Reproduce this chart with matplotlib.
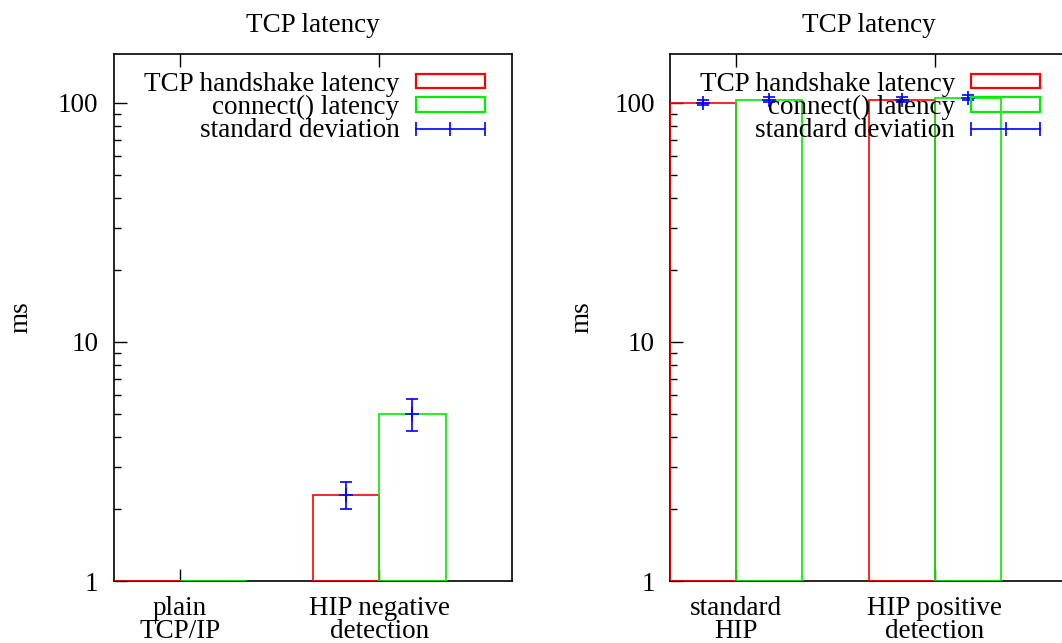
import numpy as np
import matplotlib
matplotlib.use("Agg")
import matplotlib.pyplot as plt
from matplotlib.lines import Line2D
from matplotlib.patches import Patch
from matplotlib.legend_handler import HandlerLine2D
from matplotlib.ticker import FixedLocator, NullFormatter, FuncFormatter

plt.rcParams["font.family"] = ["Liberation Serif", "DejaVu Serif"]
FS = 19.5

# data (ms)
left_labels = ["plain\nTCP/IP", "HIP negative\ndetection"]
left_handshake = [0.4, 2.3]
left_handshake_std = [0.05, 0.3]
left_connect = [0.45, 5.0]
left_connect_std = [0.05, 0.76]

right_labels = ["standard\nHIP", "HIP positive\ndetection"]
right_handshake = [100.3, 103.0]
right_handshake_std = [2.5, 2.5]
right_connect = [102.9, 105.0]
right_connect_std = [2.5, 2.5]

series_names = ["TCP handshake latency", "connect() latency", "standard deviation"]

RED, GREEN, BLUE = "#ff0000", "#00ee00", "#0000ff"
W = 1.0 / 3


def draw(ax, labels, hs, hs_std, cn, cn_std):
    x = np.arange(len(labels))
    hs = np.array(hs)
    cn = np.array(cn)
    ax.bar(x - W / 2, hs - 1, width=W, bottom=1, fill=False,
           edgecolor=RED, linewidth=1.2, zorder=2)
    ax.bar(x + W / 2, cn - 1, width=W, bottom=1, fill=False,
           edgecolor=GREEN, linewidth=1.2, zorder=2)
    for xs, v, s in [(x - W / 2, hs, hs_std), (x + W / 2, cn, cn_std)]:
        ax.errorbar(xs, v, yerr=s, fmt="+", color=BLUE, ecolor=BLUE,
                    markersize=9.5, capsize=4.3, elinewidth=1.2,
                    capthick=1.2, markeredgewidth=1.2, zorder=3)

    ax.set_yscale("log")
    ax.set_ylim(1, 160)
    ax.set_xlim(-1 / 3, len(labels) - 1 / 3)
    ax.yaxis.set_major_locator(FixedLocator([1, 10, 100]))
    ax.yaxis.set_major_formatter(FuncFormatter(lambda v, p: "%g" % v))
    minors = [m * d for d in (1, 10, 100) for m in range(2, 10) if m * d < 160]
    ax.yaxis.set_minor_locator(FixedLocator(minors))
    ax.yaxis.set_minor_formatter(NullFormatter())
    ax.set_xticks(x)
    ax.set_xticklabels(labels, fontsize=FS, linespacing=0.9)
    ax.tick_params(axis="y", which="major", direction="in", length=9.5,
                   width=1, labelsize=FS, pad=11, right=False)
    ax.tick_params(axis="y", which="minor", direction="in", length=5,
                   width=1, right=False)
    ax.tick_params(axis="x", which="both", direction="in", length=9,
                   width=1, top=True, pad=11)
    for sp in ax.spines.values():
        sp.set_linewidth(1.2)
        sp.set_zorder(1)
    ax.set_title("TCP latency", fontsize=FS, pad=16)
    ax.set_ylabel("ms", fontsize=FS)

    handles = [Patch(facecolor="none", edgecolor=RED, linewidth=1.6),
               Patch(facecolor="none", edgecolor=GREEN, linewidth=1.6),
               Line2D([], [], color=BLUE, marker="|", markersize=9.5,
                      markeredgewidth=1.2, linewidth=1.2)]
    ax.legend(handles, series_names, loc="upper right",
              bbox_to_anchor=(0.932, 0.966), frameon=False, fontsize=FS,
              markerfirst=False, borderpad=0, borderaxespad=0,
              handlelength=2.55, handleheight=0.44, handletextpad=0.6,
              labelspacing=-0.07,
              handler_map={handles[2]: HandlerLine2D(numpoints=3, marker_pad=0)})


fig = plt.figure(figsize=(10.62, 6.43), dpi=100)
ax1 = fig.add_axes([0.1069, 0.0964, 0.3752, 0.8196])
ax2 = fig.add_axes([0.6309, 0.0964, 0.374, 0.8196])

draw(ax1, left_labels, left_handshake, left_handshake_std,
     left_connect, left_connect_std)
draw(ax2, right_labels, right_handshake, right_handshake_std,
     right_connect, right_connect_std)

ax1.yaxis.set_label_coords(-0.2, 0.5)
ax2.yaxis.set_label_coords(-0.19, 0.5)

fig.savefig("out.png", dpi=100)
